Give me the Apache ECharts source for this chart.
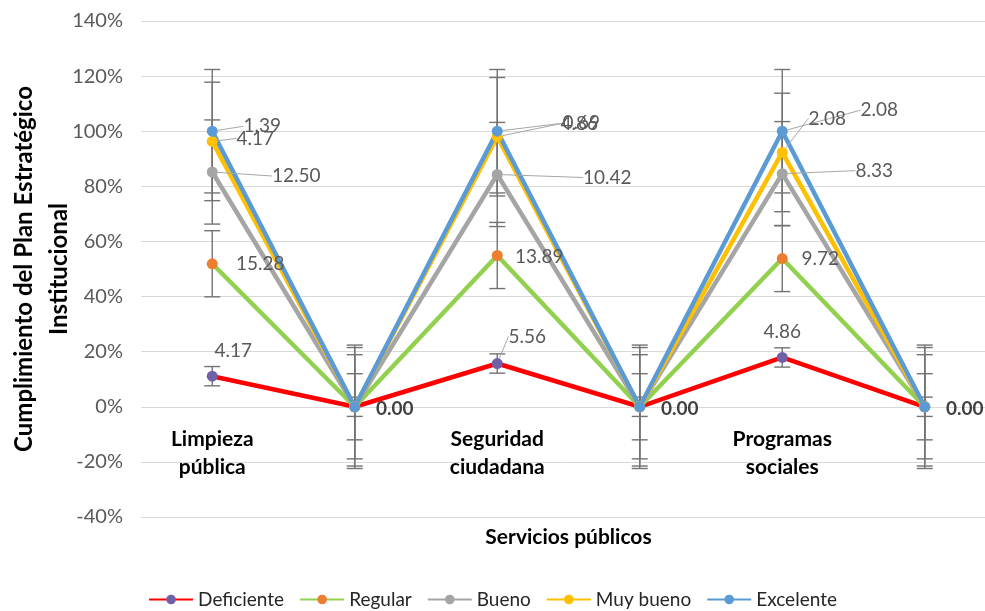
<!DOCTYPE html>
<html>
<head>
<meta charset="utf-8">
<script src="https://cdn.jsdelivr.net/npm/echarts@6/dist/echarts.min.js"></script>
<style>
  html, body { margin: 0; background: #fff; }
  #chart { width: 985px; height: 611px; }
</style>
</head>
<body>
<div id="chart"></div>
<script>
// categories (blank slots sit between the services)
const categories = ["Limpieza\npública", "", "Seguridad\nciudadana", "", "Programas\nsociales", ""];
const seriesNames = ["Deficiente", "Regular", "Bueno", "Muy bueno", "Excelente"];

// cumulative percentages
const deficiente = [11.1, 0, 15.7, 0, 17.9, 0];
const regular = [51.9, 0, 54.9, 0, 53.8, 0];
const bueno = [85.2, 0, 84.3, 0, 84.6, 0];
const muyBueno = [96.3, 0, 98.0, 0, 92.3, 0];
const excelente = [100, 0, 100, 0, 100, 0];

// data label texts
const deficienteLabels = ["4.17", "", "5.56", "", "4.86", ""];
const regularLabels = ["15.28", "", "13.89", "", "9.72", ""];
const buenoLabels = ["12.50", "", "10.42", "", "8.33", ""];
const muyBuenoLabels = ["4.17", "", "4.86", "", "2.08", ""];
const excelenteLabels = ["1.39", "0.00", "0.69", "0.00", "2.08", "0.00"];

// error bar half size per series (percentage points)
const errorSizes = [3.5, 12.0, 18.9, 21.5, 22.4];

const FONT = "Lato, 'Open Sans', sans-serif";
const lineColors = ["#ff0000", "#92d050", "#a5a5a5", "#ffc000", "#5b9bd5"];
const markerColors = ["#7060a8", "#ed7d31", "#a5a5a5", "#ffc000", "#5b9bd5"];

// label placement: [dx, dy, leader] from point to label centre
const labelPlace = [
  [[21, -25, 0], null, [30, -27, 1], null, [0, -26, 0], null],
  [[48, 0, 0], null, [42, 1, 0], null, [38, 0, 0], null],
  [[84, 4, 1], null, [110, 3, 1], null, [92, -3, 1], null],
  [[43, -3, 1], null, [82, -13, 1], null, [45, -34, 1], null],
  [[50, -5, 1], [40, 2, 0], [84, -8, 1], [40, 2, 0], [97, -21, 1], [40, 2, 0]]
];

const values = [deficiente, regular, bueno, muyBueno, excelente];
const labels = [deficienteLabels, regularLabels, buenoLabels, muyBuenoLabels, excelenteLabels];

const chart = echarts.init(document.getElementById("chart"));

const lineSeries = seriesNames.map((name, s) => ({
  name,
  type: "line",
  z: 3,
  symbol: "circle",
  symbolSize: 11,
  lineStyle: { color: lineColors[s], width: 4.5 },
  itemStyle: { color: markerColors[s] },
  data: values[s].map((v, i) => {
    const p = labelPlace[s][i];
    const isZero = categories[i] === "";
    return {
      value: v,
      label: {
        show: !!labels[s][i],
        formatter: labels[s][i] || "",
        fontWeight: isZero ? "bold" : "normal",
        color: isZero ? "#404040" : "#595959"
      },
      labelLine: { show: !!(p && p[2]) }
    };
  }),
  label: {
    position: "inside",
    fontFamily: FONT,
    fontSize: 19
  },
  labelLine: { show: true, lineStyle: { color: "#a6a6a6", width: 1 } },
  labelLayout: (params) => {
    const p = labelPlace[s][params.dataIndex];
    return p ? { dx: p[0], dy: p[1] } : {};
  },
  emphasis: { disabled: true }
}));

const errorSeries = seriesNames.map((name, s) => ({
  name: name + " err",
  type: "custom",
  z: 1,
  silent: true,
  data: values[s].map((v, i) => [i, v, errorSizes[s]]),
  encode: { x: 0, y: 1 },
  renderItem: (params, api) => {
    const hi = api.coord([api.value(0), api.value(1) + api.value(2)]);
    const lo = api.coord([api.value(0), api.value(1) - api.value(2)]);
    const w = 8;
    const style = { stroke: "#737373", lineWidth: 1.4 };
    return {
      type: "group",
      children: [
        { type: "line", shape: { x1: hi[0], y1: hi[1], x2: lo[0], y2: lo[1] }, style },
        { type: "line", shape: { x1: hi[0] - w, y1: hi[1], x2: hi[0] + w, y2: hi[1] }, style },
        { type: "line", shape: { x1: lo[0] - w, y1: lo[1], x2: lo[0] + w, y2: lo[1] }, style }
      ]
    };
  }
}));

chart.setOption({
  animation: false,
  textStyle: { fontFamily: FONT },
  grid: { left: 141, right: -11, top: 21, bottom: 94, outerBoundsMode: "none" },
  legend: {
    data: seriesNames,
    bottom: -3,
    itemWidth: 44,
    itemHeight: 12,
    itemGap: 15,
    textStyle: { fontSize: 19, color: "#262626", fontFamily: FONT }
  },
  xAxis: {
    type: "category",
    data: categories,
    axisTick: { show: false },
    axisLine: { onZero: false, lineStyle: { color: "#d9d9d9" } },
    axisLabel: {
      interval: 0,
      margin: -92,
      fontSize: 21,
      lineHeight: 28,
      fontWeight: "bold",
      color: "#000"
    },
    name: "Servicios públicos",
    nameLocation: "middle",
    nameGap: 10,
    nameMoveOverlap: false,
    nameTextStyle: { fontSize: 21, fontWeight: "bold", color: "#000" }
  },
  yAxis: {
    type: "value",
    min: -40,
    max: 140,
    interval: 20,
    axisLabel: {
      formatter: (v) => v + "%",
      fontSize: 20,
      color: "#595959",
      margin: 18
    },
    splitLine: { lineStyle: { color: "#d9d9d9" } },
    name: "Cumplimiento del Plan Estratégico\nInstitucional",
    nameLocation: "middle",
    nameGap: 64,
    nameMoveOverlap: false,
    nameTextStyle: { fontSize: 24, fontWeight: "bold", color: "#000", lineHeight: 35 }
  },
  series: [...errorSeries, ...lineSeries]
});
</script>
</body>
</html>
